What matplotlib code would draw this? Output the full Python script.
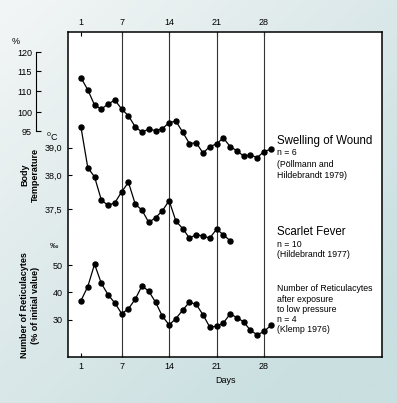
import numpy as np
import matplotlib
matplotlib.use("Agg")
import matplotlib.pyplot as plt
from matplotlib.colors import LinearSegmentedColormap

plt.rcParams['font.family'] = ['Liberation Sans', 'DejaVu Sans']

# --- data ---
day_ticks = [1, 7, 14, 21, 28]

swelling_days = list(range(1, 30))
swelling = [113.3, 110.3, 103.3, 101.4, 103.8, 105.7, 101.4, 99.0, 96.1, 94.7,
            95.5, 95.1, 95.6, 97.2, 97.6, 94.7, 91.7, 91.9, 89.2, 90.9,
            91.6, 93.2, 90.9, 89.8, 88.4, 88.7, 88.0, 89.6, 90.2]
swelling_ticks = [95, 100, 110, 115, 120]
swelling_ticklabels = ['95', '100', '110', '115', '120']

temp_days = list(range(1, 24))
temp = [39.72, 38.28, 37.98, 37.64, 37.56, 37.60, 37.76, 37.90, 37.58, 37.49,
        37.31, 37.38, 37.48, 37.63, 37.33, 37.22, 37.08, 37.13, 37.11, 37.08,
        37.21, 37.13, 37.04]
temp_ticks = [37.5, 38.0, 39.0]
temp_ticklabels = ['37,5', '38,0', '39,0']

retic_days = list(range(1, 30))
retic = [37.0, 42.1, 50.3, 43.3, 39.1, 36.1, 32.2, 34.0, 37.5, 42.4,
         40.4, 36.4, 31.3, 28.1, 30.4, 33.5, 36.4, 35.6, 31.8, 27.3,
         27.6, 28.8, 32.1, 30.8, 29.2, 26.1, 24.5, 25.7, 27.9]
retic_ticks = [30, 40, 50]

W, H = 397, 403


def fx(x):
    return x / W


def fy(y):
    return 1 - y / H


def piecewise(xs, ys):
    xs = np.asarray(xs, float)
    ys = np.asarray(ys, float)
    lo = (ys[1] - ys[0]) / (xs[1] - xs[0])
    hi = (ys[-1] - ys[-2]) / (xs[-1] - xs[-2])

    def f(v):
        v = np.asarray(v, float)
        out = np.interp(v, xs, ys)
        out = np.where(v < xs[0], ys[0] + (v - xs[0]) * lo, out)
        out = np.where(v > xs[-1], ys[-1] + (v - xs[-1]) * hi, out)
        return out
    return f


fig = plt.figure(figsize=(W / 100, H / 100), dpi=100)

# background gradient
bg = fig.add_axes([0, 0, 1, 1], zorder=-10)
gx, gy = np.meshgrid(np.linspace(0, 1, 200), np.linspace(0, 1, 200))
grad = np.clip(0.55 * gx + 0.6 * gy, 0, 1)
cmap_bg = LinearSegmentedColormap.from_list('bg', ['#f3f6f6', '#dde9ea', '#c9dfe0'])
bg.imshow(grad, cmap=cmap_bg, aspect='auto', extent=[0, 1, 0, 1], origin='upper')
bg.axis('off')

# plot box (pixel edges)
left, right, top, bottom = 68, 382, 32, 357
rect = [fx(left), fy(bottom), (right - left) / W, (bottom - top) / H]

ax = fig.add_axes(rect)
ax.set_facecolor('white')
x0 = 1 - (81 - left) / 6.778
x1 = 1 + (right - 81) / 6.778
ax.set_xlim(x0, x1)
ax.set_ylim(0, 1)
ax.set_yticks([])
ax.set_xticks(day_ticks)
ax.tick_params(axis='x', top=True, labeltop=True, direction='in', length=3,
               width=0.8, pad=3.5, labelsize=6.5)
for d in day_ticks[1:]:
    ax.axvline(d, color='#333333', lw=0.8)
for s in ax.spines.values():
    s.set_linewidth(1.1)
ax.set_xlabel('Days', fontsize=6.5, labelpad=4)


def series_axes(vals, pix):
    a = fig.add_axes(rect, sharex=ax)
    a.patch.set_visible(False)
    fwd = piecewise(vals, [-p for p in pix])
    inv = piecewise([-p for p in pix], vals)
    a.set_yscale('function', functions=(fwd, inv))
    a.set_ylim(float(inv(-bottom)), float(inv(-top)))
    for s in a.spines.values():
        s.set_visible(False)
    a.xaxis.set_visible(False)
    return a


# swelling of wound
a1 = series_axes(swelling_ticks, [131, 112, 91, 71, 52])
a1.spines['left'].set_visible(True)
a1.spines['left'].set_position(('axes', (36 - left) / (right - left)))
a1.spines['left'].set_bounds(95, 120)
a1.spines['left'].set_linewidth(0.8)
a1.set_yticks(swelling_ticks)
a1.set_yticklabels(swelling_ticklabels)
a1.tick_params(axis='y', direction='in', length=3.8, width=0.8, pad=3, labelsize=6.5)
a1.plot(swelling_days, swelling, '-o', color='black', ms=3.6, lw=0.9, clip_on=False)

# body temperature
a2 = series_axes(temp_ticks, [209.5, 175.5, 147.5])
a2.set_yticks(temp_ticks)
a2.set_yticklabels(temp_ticklabels)
a2.tick_params(axis='y', direction='in', length=3, width=0.8, pad=4, labelsize=6.5)
a2.plot(temp_days, temp, '-o', color='black', ms=3.6, lw=0.9, clip_on=False)

# reticulocytes
a3 = series_axes([30, 50], [319.7, 265])
a3.set_yticks(retic_ticks)
a3.tick_params(axis='y', direction='in', length=3, width=0.8, pad=4, labelsize=6.5)
a3.plot(retic_days, retic, '-o', color='black', ms=3.6, lw=0.9, clip_on=False)

# unit labels
fig.text(fx(16), fy(42), '%', fontsize=6.5, ha='center', va='center')
fig.text(fx(52), fy(137), r'$^{0}$C', fontsize=6.5, ha='center', va='center')
fig.text(fx(54), fy(247), '‰', fontsize=6, ha='center', va='center')

# axis titles
fig.text(fx(30), fy(175), 'Body\nTemperature', rotation=90, fontsize=6.5,
         fontweight='bold', ha='center', va='center', multialignment='center')
fig.text(fx(30), fy(305), 'Number of Reticulacytes\n(% of initial value)', rotation=90,
         fontsize=6.5, fontweight='bold', ha='center', va='center',
         multialignment='center')

# series annotations
tx = fx(277)
fig.text(tx, fy(141), 'Swelling of Wound', fontsize=8.3, va='center')
fig.text(tx, fy(153), 'n = 6', fontsize=6.3, va='center')
fig.text(tx, fy(164), '(Pöllmann and', fontsize=6.3, va='center')
fig.text(tx, fy(175), 'Hildebrandt 1979)', fontsize=6.3, va='center')

fig.text(tx, fy(232), 'Scarlet Fever', fontsize=8.3, va='center')
fig.text(tx, fy(244), 'n = 10', fontsize=6.3, va='center')
fig.text(tx, fy(254.5), '(Hildebrandt 1977)', fontsize=6.3, va='center')

for yy, s in zip([288.5, 299, 309, 319.5, 330],
                 ['Number of Reticulacytes', 'after exposure', 'to low pressure',
                  'n = 4', '(Klemp 1976)']):
    fig.text(tx, fy(yy), s, fontsize=6.3, va='center')

fig.savefig('out.png', dpi=100)
